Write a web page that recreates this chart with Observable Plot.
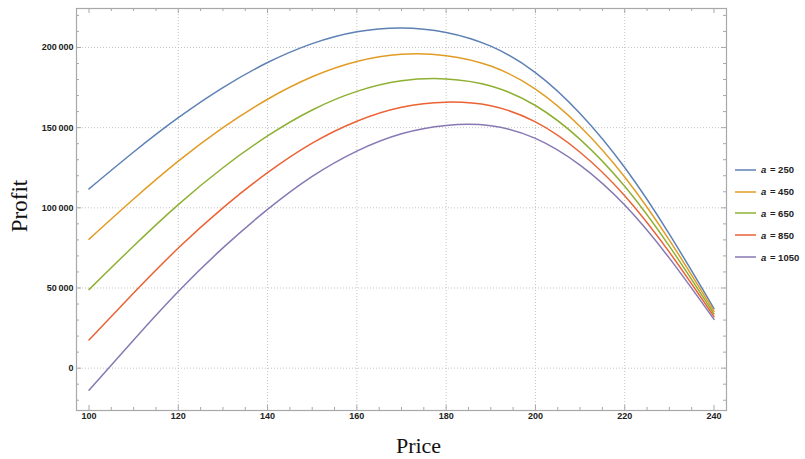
<!DOCTYPE html>
<html>
<head>
<meta charset="utf-8">
<script src="https://cdn.jsdelivr.net/npm/d3@7"></script>
<script src="https://cdn.jsdelivr.net/npm/@observablehq/plot@0.6"></script>
<style>
  body { margin: 0; background: #fff; }
  #chart { position: relative; width: 805px; height: 459px; }
  #legend { position: absolute; left: 735px; top: 159px; font: bold 9.5px "Liberation Sans", Arial, sans-serif; color: #222; }
  #legend .item { display: flex; align-items: center; height: 21.8px; white-space: nowrap; }
  #legend svg { margin-right: 5px; }
  #legend i { margin-right: 1px; }
</style>
</head>
<body>
<div id="chart"><div id="legend"></div></div>
<script>
// Price grid at which profit is tabulated
const prices = [100, 110, 120, 130, 140, 150, 160, 170, 180, 190, 200, 210, 220, 230, 240];

// Parameter a for each curve
const aValues = [250, 450, 650, 850, 1050];

// Profit for each value of a
const profitA250  = [111800, 134800, 156200, 175000, 190600, 202400, 209800, 212200, 209400, 200800, 184300, 158800, 125100, 83600, 37200];
const profitA450  = [80400, 105500, 129100, 150000, 167700, 181700, 191200, 195700, 194900, 188400, 174050, 150750, 119250, 79850, 35500];
const profitA650  = [49000, 76200, 102000, 125000, 144800, 161000, 172600, 179200, 180400, 176000, 163800, 142700, 113400, 76100, 33800];
const profitA850  = [17600, 46900, 74900, 100000, 121900, 140300, 154000, 162700, 165900, 163600, 153550, 134650, 107550, 72350, 32100];
const profitA1050 = [-13800, 17600, 47800, 75000, 99000, 119600, 135400, 146200, 151400, 151200, 143300, 126600, 101700, 68600, 30400];

const profits = [profitA250, profitA450, profitA650, profitA850, profitA1050];
const palette = ["#5e81b5", "#e19c24", "#8fb032", "#eb6235", "#8778b3"];

// Long table: one row per (a, price)
const rows = aValues.flatMap((a, k) => prices.map((p, i) => ({a, price: p, profit: profits[k][i]})));

// Tick positions
const xMajor = d3.range(100, 241, 20);
const xMinor = d3.range(100, 241, 5).filter(v => v % 20 !== 0);
const yMajor = d3.range(0, 200001, 50000);
const yMinor = d3.range(-20000, 220001, 10000).filter(v => v % 50000 !== 0);
const xGrid = xMajor.filter(v => v > 100 && v < 240);

const W = 805, H = 459;
const mL = 76, mR = 79, mT = 8, mB = 49;
const innerW = W - mL - mR, innerH = H - mT - mB;

const frameColor = "#a8a8a8";
const gridStyle = {stroke: "#c4c4c4", strokeOpacity: 1, strokeDasharray: "1,2", strokeWidth: 1};
const tickStyle = {stroke: frameColor, strokeWidth: 1};
const labelFont = {fontSize: 9, fontWeight: "bold", fontFamily: "Liberation Sans, Arial, sans-serif", fill: "#222"};

const fmtY = d => d === 0 ? "0" : d3.format(",")(d).replace(/,/g, "\u2009");

const chart = Plot.plot({
  width: W,
  height: H,
  marginLeft: mL,
  marginRight: mR,
  marginTop: mT,
  marginBottom: mB,
  x: {domain: [97.2, 242.8]},
  y: {domain: [-26400, 224300]},
  color: {type: "ordinal", domain: aValues, range: palette},
  marks: [
    Plot.gridX(xGrid, gridStyle),
    Plot.gridY(yMajor, gridStyle),
    // inward ticks on all four sides
    Plot.tickX(xMajor, {x: d => d, ...tickStyle, insetTop: innerH - 5}),
    Plot.tickX(xMinor, {x: d => d, ...tickStyle, insetTop: innerH - 3}),
    Plot.tickX(xMajor, {x: d => d, ...tickStyle, insetBottom: innerH - 5}),
    Plot.tickX(xMinor, {x: d => d, ...tickStyle, insetBottom: innerH - 3}),
    Plot.tickY(yMajor, {y: d => d, ...tickStyle, insetRight: innerW - 5}),
    Plot.tickY(yMinor, {y: d => d, ...tickStyle, insetRight: innerW - 3}),
    Plot.tickY(yMajor, {y: d => d, ...tickStyle, insetLeft: innerW - 5}),
    Plot.tickY(yMinor, {y: d => d, ...tickStyle, insetLeft: innerW - 3}),
    Plot.frame({stroke: frameColor, strokeWidth: 1.2}),
    Plot.axisX(xMajor, {tickSize: 0, tickPadding: 2, label: null, ...labelFont}),
    Plot.axisY(yMajor, {tickSize: 0, tickPadding: 3, label: null, tickFormat: fmtY, ...labelFont}),
    Plot.line(rows, {x: "price", y: "profit", z: "a", stroke: "a", curve: "natural", strokeWidth: 1.5})
  ]
});

// Axis titles
const svg = d3.select(chart);
svg.append("text")
  .attr("transform", "translate(27,206) rotate(-90)")
  .attr("text-anchor", "middle")
  .style("font", "23px 'Liberation Serif', 'Times New Roman', serif")
  .attr("fill", "#111")
  .text("Profit");
svg.append("text")
  .attr("x", 418.5).attr("y", 453)
  .attr("text-anchor", "middle")
  .style("font", "22px 'Liberation Serif', 'Times New Roman', serif")
  .attr("fill", "#111")
  .text("Price");

document.getElementById("chart").prepend(chart);

// Legend
const legend = d3.select("#legend");
aValues.forEach((a, k) => {
  const item = legend.append("div").attr("class", "item");
  const sw = item.append("svg").attr("width", 21).attr("height", 4);
  sw.append("line").attr("x1", 0).attr("x2", 21).attr("y1", 2).attr("y2", 2)
    .attr("stroke", palette[k]).attr("stroke-width", 1.5);
  const label = item.append("span");
  label.append("i").text("a");
  label.append("span").text(" = " + a);
});
</script>
</body>
</html>
